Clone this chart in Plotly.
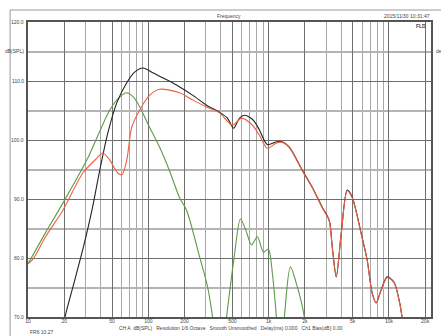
import plotly.graph_objects as go

# ---------------- data ----------------
green_f = [10, 14, 19.5, 30.8, 47.9, 58, 66, 75, 85, 100, 124, 150, 182, 208, 267, 311, 342, 390,
           447, 520, 583, 650, 720, 807, 905, 995, 1080, 1161, 1250, 1352, 1517, 1733, 1982, 2200]
green_db = [79.0, 84.3, 89.3, 96.6, 105.1, 107.3, 108.0, 107.3, 105.6, 102.6, 98.8, 94.8, 90.2, 88.1, 80.2, 75.1, 70.0, 60,
            70.0, 80.5, 86.6, 84.6, 82.2, 83.6, 81.0, 81.5, 77.0, 70.0, 62, 70.0, 78.5, 75.1, 70.0, 60]

black_f = [18, 20.3, 24.5, 29, 34, 39.5, 46.1, 54.7, 66.2, 77, 90, 109, 130, 159, 233, 305, 391, 455, 511,
           573, 630, 700, 763, 839, 977, 1161, 1300, 1487, 1905, 2306, 2792, 3190, 3381, 3650, 4015, 4500,
           4953, 5880, 6596, 7256, 7832, 8614, 9664, 11040, 12150, 12860, 13500]
black_db = [65, 70.0, 76.3, 82.0, 88.1, 94.9, 101.2, 106.3, 109.7, 111.5, 112.2, 111.4, 110.6, 109.7, 107.6, 105.9, 104.7, 103.7, 102.0,
            103.7, 104.2, 103.8, 103.1, 101.7, 99.2, 99.7, 99.7, 98.8, 94.9, 92.0, 88.6, 86.4, 81.9, 76.8, 84.2, 91.5,
            90.3, 84.2, 79.7, 74.1, 72.4, 74.6, 76.8, 75.9, 72.9, 70.0, 66]

red_f = [10, 11, 14, 19.5, 28.6, 37.3, 41.9, 47.9, 54.7, 60.2, 66.2, 72.9, 84.9, 102.7, 124, 182, 233, 305,
         391, 501, 595, 734, 839, 977, 1161, 1300, 1487, 1905, 2306, 2792, 3190, 3381, 3650, 4015, 4500,
         4953, 5880, 6596, 7256, 7832, 8614, 9664, 11040, 12150, 12860, 13500]
red_db = [79.0, 79.8, 83.6, 88.1, 94.4, 96.9, 97.8, 96.6, 94.6, 94.1, 96.6, 102.2, 105.1, 107.6, 108.6, 108.0, 106.8, 105.6,
          104.6, 102.5, 103.7, 102.5, 100.8, 98.6, 99.5, 99.6, 98.7, 94.8, 91.9, 88.5, 86.3, 81.8, 76.9, 84.1, 91.4,
          90.2, 84.1, 79.6, 74.0, 72.4, 74.5, 76.7, 75.8, 72.8, 70.0, 66]

x_tick_vals = [10, 20, 50, 100, 200, 500, 1000, 2000, 5000, 10000, 20000]
x_tick_text = ["10", "20", "50", "100", "200", "500", "1k", "2k", "5k", "10k", "20k"]
x_minor_vals = [d * m for d in (10, 100, 1000, 10000) for m in range(1, 10) if d * m <= 20000]

db_min, db_max = 70, 120
db_tick_vals = [70, 80, 90, 100, 110, 120]
db_tick_text = ["70.0", "80.0", "90.0", "100.0", "110.0", "120.0"]
phase_vals = [-180, -108, -36, 36, 108, 180]

# ---------------- figure ----------------
W, H = 441, 336
L, R, T, B = 28, 8, 22, 19
pw, ph = W - L - R, H - T - B
px = lambda v: (v - L) / pw
py = lambda v: (H - B - v) / ph

fig = go.Figure()
fig.add_trace(go.Scatter(x=green_f, y=green_db, mode="lines", line=dict(color="#5c9a45", width=1.1, shape="spline", smoothing=0.8)))
fig.add_trace(go.Scatter(x=black_f, y=black_db, mode="lines", line=dict(color="#222222", width=1.1, shape="spline", smoothing=0.8)))
fig.add_trace(go.Scatter(x=red_f, y=red_db, mode="lines", line=dict(color="#ee6040", width=1.1, shape="spline", smoothing=0.8)))

font = dict(family="Liberation Sans, Arial, sans-serif", size=5, color="#444")

fig.update_layout(
    width=W, height=H,
    margin=dict(l=L, r=R, t=T, b=B, pad=0),
    paper_bgcolor="white", plot_bgcolor="white",
    showlegend=False,
    font=font,
    xaxis=dict(
        type="log", range=[1, 1 + pw / 120.9],
        tickmode="array", tickvals=x_tick_vals, ticktext=x_tick_text,
        showgrid=True, gridcolor="#6e6e6e", gridwidth=1,
        minor=dict(tickmode="array", tickvals=x_minor_vals, showgrid=True, gridcolor="#a8a8a8", gridwidth=1, ticks=""),
        ticks="", showline=True, linecolor="#555", linewidth=2, mirror=True,
        zeroline=False, tickfont=font, ticklabelstandoff=-2,
    ),
    yaxis=dict(
        range=[db_min, db_max], tickmode="array", tickvals=db_tick_vals,
        showticklabels=False,
        showgrid=True, gridcolor="#6e6e6e", gridwidth=1,
        minor=dict(tickmode="array", tickvals=[75, 85, 95, 105, 115], showgrid=True, gridcolor="#b4b4b4", gridwidth=1.5, ticks=""),
        ticks="", showline=True, linecolor="#555", linewidth=2, mirror=True,
        zeroline=False,
    ),
    yaxis3=dict(
        range=[db_min, db_max], overlaying="y", side="left", anchor="x",
        tickmode="linear", tick0=70, dtick=1, ticks="inside", ticklen=3, tickcolor="#666", tickwidth=0.6,
        showticklabels=False, showgrid=False, zeroline=False, showline=False,
    ),
    yaxis2=dict(
        range=[-180, 180], overlaying="y", side="right", anchor="x",
        tickmode="array", tickvals=phase_vals, ticktext=[str(v) for v in phase_vals],
        ticks="outside", ticklen=3, tickcolor="#666", tickwidth=0.6,
        minor=dict(tickmode="linear", tick0=-180, dtick=7.2, ticks="outside", ticklen=2, tickcolor="#888", showgrid=False),
        showgrid=False, zeroline=False, showline=True, linecolor="#555", linewidth=1,
        tickfont=font, ticklabelstandoff=1,
    ),
)

# left axis labels (dB)
for v, t in zip(db_tick_vals, db_tick_text):
    fig.add_annotation(xref="paper", yref="y", x=px(25.5), y=v, text=t, showarrow=False,
                       xanchor="right", yanchor="middle", font=font)

# outer frame / header
fig.add_shape(type="line", xref="paper", yref="paper", x0=px(10), x1=px(445), y0=py(10), y1=py(10),
              line=dict(color="#9a9a9a", width=1))
fig.add_shape(type="line", xref="paper", yref="paper", x0=px(10), x1=px(10), y0=py(10), y1=py(345),
              line=dict(color="#9a9a9a", width=1))

ann = [
    dict(text="Frequency", x=px(230), y=py(15.5), xanchor="center", yanchor="middle"),
    dict(text="2015/11/30 10:31:47", x=px(434), y=py(15.5), xanchor="right", yanchor="middle"),
    dict(text="<b>FLD</b>", x=px(430), y=py(25.5), xanchor="right", yanchor="middle"),
    dict(text="dB(SPL)", x=px(25.5), y=py(51), xanchor="right", yanchor="middle"),
    dict(text="deg", x=px(436), y=py(51), xanchor="left", yanchor="middle"),
    dict(text="CH A  dB(SPL)   Resolution 1/6 Octave   Smooth Unsmoothed   Delay(ms) 0.000   Ch1 Bias(dB) 0.00",
         x=px(232), y=py(327.5), xanchor="center", yanchor="middle"),
    dict(text="FR6 10.27", x=px(28), y=py(332), xanchor="left", yanchor="middle"),
]
for a in ann:
    fig.add_annotation(xref="paper", yref="paper", showarrow=False, font=font, **a)

fig.write_html("out.html", config={"displayModeBar": False},
               post_script="document.body.style.margin='0px';document.body.style.overflow='hidden';")
